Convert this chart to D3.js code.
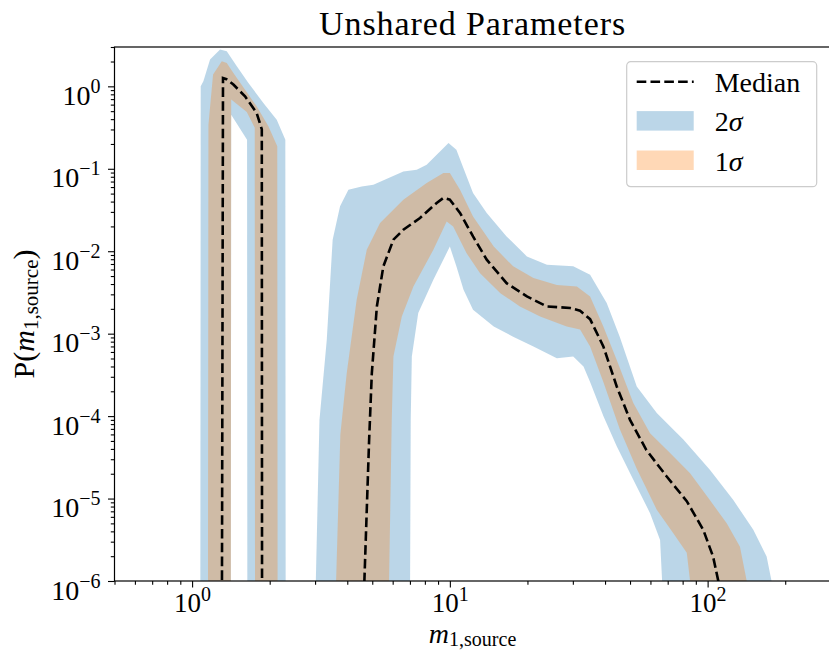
<!DOCTYPE html>
<html lang="en">
<head>
    <meta charset="UTF-8">
    <title>Unshared Parameters</title>
    <script src="https://d3js.org/d3.v7.min.js"></script>
    <style>
        body { margin: 0; background: #fff; }
        svg text { font-family: "Liberation Serif", "DejaVu Serif", serif; fill: #000; }
    </style>
</head>
<body>
    <div id="chart-container"></div>

    <script>
        // [mass, density] pairs, 0 = nothing there (drops below the axis)
        const median = [
            [1.30, 0], [1.318, 1.26], [1.36, 1.22], [1.446, 1.05], [1.605, 0.756], [1.78, 0.476], [1.864, 0.30], [1.87, 0],
            [4.62, 0], [4.66, 1e-6], [4.86, 5e-5], [4.98, 3.3e-4], [5.21, 2.14e-3], [5.52, 6.55e-3], [6.04, 0.0138],
            [6.60, 0.0182], [7.66, 0.0253], [8.89, 0.0385], [9.44, 0.0443], [10.0, 0.0422], [10.95, 0.0291],
            [12.3, 0.0151], [13.9, 7.9e-3], [16.6, 4.1e-3], [19.9, 2.83e-3], [23.8, 2.14e-3], [29.3, 2.05e-3],
            [32.0, 1.9e-3], [35.0, 1.5e-3], [39.4, 7.0e-4], [44.4, 2.29e-4], [50, 9.0e-5], [57.8, 3.9e-5],
            [69.4, 1.85e-5], [83, 9.3e-6], [96.2, 4.17e-6], [105, 1.98e-6], [110, 1e-6], [112, 0]
        ];
        const upper1 = [
            [1.15, 0], [1.157, 0.34], [1.206, 1.39], [1.304, 2.01], [1.363, 1.92], [1.446, 1.45], [1.605, 0.912],
            [1.78, 0.572], [1.977, 0.327], [2.14, 0.187], [2.15, 0],
            [3.58, 0], [3.62, 1e-6], [3.76, 6e-5], [3.98, 3.3e-4], [4.35, 2.58e-3], [4.76, 0.0104], [5.36, 0.022],
            [6.60, 0.0422], [8.13, 0.0673], [9.44, 0.089], [10.0, 0.089], [10.95, 0.0558], [12.3, 0.0264],
            [14.8, 0.0114], [17.6, 0.00655], [21.1, 0.00473], [26.0, 0.0039], [31.1, 0.00374], [35.0, 0.00283],
            [39.4, 0.00122], [44.4, 4.8e-4], [51.5, 1.44e-4], [59.8, 6.2e-5], [71.5, 3.56e-5], [85.5, 2.03e-5],
            [102, 9.6e-6], [118.6, 5.0e-6], [133.5, 2.6e-6], [141.8, 1e-6], [144, 0]
        ];
        const lower1 = [
            [1.412, 0], [1.418, 0.69], [1.63, 0.49], [1.75, 0.315], [1.756, 0],
            [5.78, 0], [5.81, 1e-6], [5.95, 9e-5], [6.04, 5.3e-4], [6.51, 1.62e-3], [7.22, 3.74e-3], [8.63, 0.0104],
            [9.72, 0.023], [10.3, 0.02], [11.6, 9.5e-3], [13.1, 5.4e-3], [15.7, 3.1e-3], [18.7, 2.14e-3],
            [22.4, 1.62e-3], [28.4, 1.22e-3], [32, 1.12e-3], [35, 7.0e-4], [39.4, 2.6e-4], [45.6, 7e-5],
            [53.1, 2.3e-5], [63.5, 7.3e-6], [73.6, 3.8e-6], [83, 2.2e-6], [85.5, 1e-6], [87, 0]
        ];
        const upper2 = [
            [1.075, 0], [1.08, 1.0], [1.106, 1.15], [1.174, 2.11], [1.284, 2.79], [1.363, 2.66], [1.491, 1.75],
            [1.654, 1.1], [1.89, 0.629], [2.13, 0.394], [2.30, 0.225], [2.31, 0],
            [2.99, 0], [3.02, 1e-6], [3.12, 9e-5], [3.33, 8.4e-4], [3.51, 0.0138], [3.75, 0.0352], [4.04, 0.0558],
            [4.55, 0.0611], [5.05, 0.064], [6.60, 0.093], [7.44, 0.0976], [8.13, 0.112], [9.88, 0.206],
            [10.6, 0.17], [11.1, 0.117], [12.3, 0.051], [13.9, 0.029], [16.6, 0.0151], [19.9, 0.00865],
            [23.8, 0.00685], [30.1, 0.00655], [35.0, 0.00519], [40.6, 0.00235], [45.6, 9.2e-4], [53.1, 2.29e-4],
            [63.5, 1.09e-4], [80.5, 5.2e-5], [102, 2.23e-5], [125.8, 9.6e-6], [150.4, 4.17e-6], [169.4, 1.98e-6],
            [177, 1e-6], [180, 0]
        ];
        const lower2 = [
            [1.412, 0], [1.418, 0.453], [1.634, 0.225], [1.64, 0],
            [6.98, 0], [7.01, 1e-6], [7.05, 9e-5], [7.12, 5.3e-4], [7.54, 1.78e-3], [8.63, 4.5e-3], [10.0, 0.0114],
            [10.6, 6.55e-3], [11.3, 3.4e-3], [12.3, 1.95e-3], [14.8, 1.22e-3], [17.6, 9.2e-4], [21.1, 7.0e-4],
            [26.0, 5.05e-4], [30.1, 5.3e-4], [33, 4.0e-4], [35, 2.6e-4], [39.4, 1.0e-4], [44.4, 4.3e-5],
            [51.5, 1.69e-5], [59.8, 6.65e-6], [65.4, 3.15e-6], [66.6, 1e-6], [67.5, 0]
        ];

        // tick labels: base 10 with exponent
        const xMajor = [1, 10, 100];
        const xExponents = ["0", "1", "2"];
        const yMajor = [1, 1e-1, 1e-2, 1e-3, 1e-4, 1e-5, 1e-6];
        const yExponents = ["0", "\u22121", "\u22122", "\u22123", "\u22124", "\u22125", "\u22126"];
        const legendLabels = [["Median", ""], ["2", "\u03c3"], ["1", "\u03c3"]];

        const W = 829, H = 652;
        const plot = {left: 114.5, right: 830.6, top: 47, bottom: 581};
        const floor = 1e-9;
        const blue = "#1f77b4", orange = "#ff7f0e";

        const svg = d3.select("#chart-container")
            .append("svg")
            .attr("width", W)
            .attr("height", H);

        svg.append("rect").attr("width", W).attr("height", H).attr("fill", "#fff");

        svg.append("clipPath").attr("id", "plot-area")
            .append("rect")
            .attr("x", plot.left).attr("y", plot.top)
            .attr("width", plot.right - plot.left).attr("height", plot.bottom - plot.top);

        // log scales on both axes
        const x = d3.scaleLog().domain([0.5, 300]).range([plot.left, plot.right]);
        const y = d3.scaleLog().domain([1e-6, 3]).range([plot.bottom, plot.top]);

        const line = d3.line()
            .x(d => x(d[0]))
            .y(d => y(Math.max(d[1], floor)));

        // band = upper curve out, lower curve back
        function band(upper, lower) {
            return line(upper.concat(lower.slice().reverse())) + "Z";
        }

        const g = svg.append("g").attr("clip-path", "url(#plot-area)");

        g.append("path")
            .attr("d", band(upper2, lower2))
            .attr("fill", blue)
            .attr("fill-opacity", 0.3);

        g.append("path")
            .attr("d", band(upper1, lower1))
            .attr("fill", orange)
            .attr("fill-opacity", 0.3);

        g.append("path")
            .attr("d", line(median))
            .attr("fill", "none")
            .attr("stroke", "#000")
            .attr("stroke-width", 2.6)
            .attr("stroke-dasharray", "9.6,4.2");

        const isDecade = v => Math.abs(Math.log10(v) - Math.round(Math.log10(v))) < 1e-9;

        // minor ticks
        svg.append("g")
            .attr("transform", `translate(0,${plot.bottom})`)
            .call(d3.axisBottom(x).tickValues(x.ticks().filter(v => !isDecade(v))).tickSize(3.7).tickSizeOuter(0).tickFormat(""))
            .call(a => a.select(".domain").remove());
        svg.append("g")
            .attr("transform", `translate(${plot.left},0)`)
            .call(d3.axisLeft(y).tickValues(y.ticks().filter(v => !isDecade(v))).tickSize(3.7).tickSizeOuter(0).tickFormat(""))
            .call(a => a.select(".domain").remove());

        // major ticks
        const xAxis = svg.append("g")
            .attr("transform", `translate(0,${plot.bottom})`)
            .call(d3.axisBottom(x).tickValues(xMajor).tickSize(6.5).tickSizeOuter(0).tickFormat(""));
        const yAxis = svg.append("g")
            .attr("transform", `translate(${plot.left},0)`)
            .call(d3.axisLeft(y).tickValues(yMajor).tickSize(6.5).tickSizeOuter(0).tickFormat(""));

        svg.selectAll(".tick line").attr("stroke", "#000").attr("stroke-width", 1.1);

        xAxis.selectAll(".tick text").remove();
        xAxis.selectAll(".tick").append("text")
            .attr("y", 31)
            .attr("text-anchor", "middle")
            .attr("font-size", 27)
            .each(function(d, i) {
                const t = d3.select(this);
                t.append("tspan").text("10");
                t.append("tspan").attr("dy", -11).attr("font-size", 20).text(xExponents[i]);
            });

        yAxis.selectAll(".tick text").remove();
        yAxis.selectAll(".tick").append("text")
            .attr("x", -14)
            .attr("y", 18)
            .attr("text-anchor", "end")
            .attr("font-size", 28)
            .each(function(d, i) {
                const t = d3.select(this);
                t.append("tspan").text("10");
                t.append("tspan").attr("dy", -12).attr("font-size", 20).text(yExponents[i]);
            });

        // spines on top
        svg.selectAll(".domain").remove();
        svg.append("rect")
            .attr("x", plot.left).attr("y", plot.top)
            .attr("width", plot.right - plot.left).attr("height", plot.bottom - plot.top)
            .attr("fill", "none")
            .attr("stroke", "#000")
            .attr("stroke-width", 1.2);

        // title and axis labels
        svg.append("text")
            .attr("x", (plot.left + plot.right) / 2)
            .attr("y", 35)
            .attr("text-anchor", "middle")
            .attr("font-size", 34)
            .attr("letter-spacing", 0.9)
            .text("Unshared Parameters");

        const xl = svg.append("text")
            .attr("x", (plot.left + plot.right) / 2)
            .attr("y", 643)
            .attr("text-anchor", "middle")
            .attr("font-size", 28);
        xl.append("tspan").attr("font-style", "italic").text("m");
        xl.append("tspan").attr("dy", 3).attr("font-size", 20).text("1,source");

        const yl = svg.append("text")
            .attr("transform", `translate(34,${(plot.top + plot.bottom) / 2}) rotate(-90)`)
            .attr("text-anchor", "middle")
            .attr("font-size", 30);
        yl.append("tspan").text("P(");
        yl.append("tspan").attr("font-style", "italic").text("m");
        yl.append("tspan").attr("dy", 4).attr("font-size", 21).text("1,source");
        yl.append("tspan").attr("dy", -4).text(")");

        // legend
        const legend = svg.append("g").attr("transform", "translate(626.7,61.7)");
        legend.append("rect")
            .attr("width", 190).attr("height", 125)
            .attr("rx", 4)
            .attr("fill", "#fff").attr("fill-opacity", 0.8)
            .attr("stroke", "#cccccc").attr("stroke-width", 1.2);

        const rows = legend.selectAll(".row")
            .data(legendLabels)
            .enter()
            .append("g")
            .attr("transform", (d, i) => `translate(10,${20 + i * 39.4})`);

        rows.filter((d, i) => i === 0).append("line")
            .attr("x1", 0).attr("x2", 57)
            .attr("stroke", "#000").attr("stroke-width", 2.6)
            .attr("stroke-dasharray", "9.6,4.2");

        rows.filter((d, i) => i > 0).append("rect")
            .attr("y", -10).attr("width", 57).attr("height", 19.5)
            .attr("fill", (d, i) => i === 0 ? blue : orange)
            .attr("fill-opacity", 0.3);

        rows.append("text")
            .attr("x", 78)
            .attr("y", 10)
            .attr("font-size", 28)
            .each(function(d) {
                const t = d3.select(this);
                t.append("tspan").text(d[0]);
                if (d[1]) t.append("tspan").attr("font-style", "italic").text(d[1]);
            });
    </script>
</body>
</html>
